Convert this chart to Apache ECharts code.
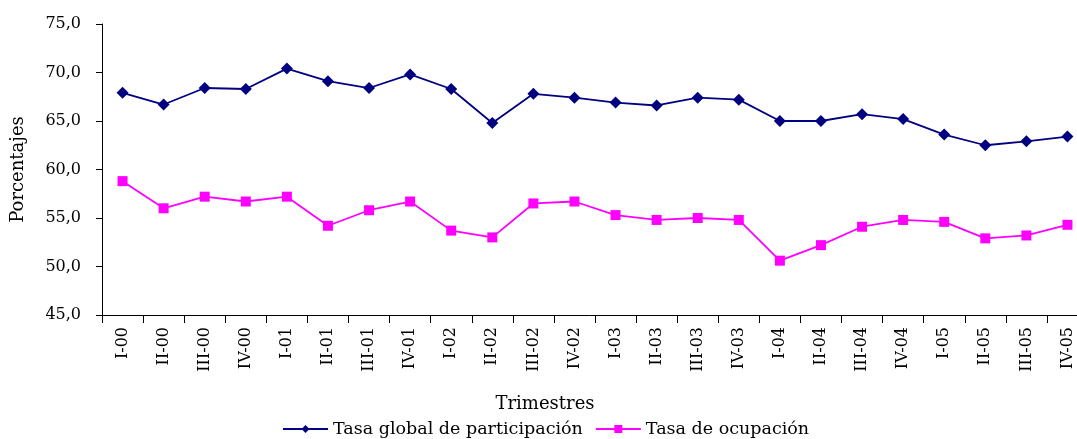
<!DOCTYPE html>
<html lang="es">
  <head>
    <meta charset="utf-8" />
    <title>Tasa global de participación y tasa de ocupación</title>
    <script src="https://cdn.jsdelivr.net/npm/echarts@6/dist/echarts.min.js"></script>
    <style>
      * { margin: 0; padding: 0; }
      html, body, #chart { width: 1077px; height: 439px; overflow: hidden; background: #fff; }
    </style>
  </head>
  <body>
    <div id="chart"></div>
    <script>
      var trimestres = [
        "I-00", "II-00", "III-00", "IV-00",
        "I-01", "II-01", "III-01", "IV-01",
        "I-02", "II-02", "III-02", "IV-02",
        "I-03", "II-03", "III-03", "IV-03",
        "I-04", "II-04", "III-04", "IV-04",
        "I-05", "II-05", "III-05", "IV-05"
      ];
      var tasaGlobal = [
        67.9, 66.7, 68.4, 68.3,
        70.4, 69.1, 68.4, 69.8,
        68.3, 64.8, 67.8, 67.4,
        66.9, 66.6, 67.4, 67.2,
        65.0, 65.0, 65.7, 65.2,
        63.6, 62.5, 62.9, 63.4
      ];
      var tasaOcupacion = [
        58.8, 56.0, 57.2, 56.7,
        57.2, 54.2, 55.8, 56.7,
        53.7, 53.0, 56.5, 56.7,
        55.3, 54.8, 55.0, 54.8,
        50.6, 52.2, 54.1, 54.8,
        54.6, 52.9, 53.2, 54.3
      ];

      var font = "'DejaVu Serif', 'Liberation Serif', serif";
      var chart = echarts.init(document.getElementById("chart"));

      chart.setOption({
        animation: false,
        textStyle: { fontFamily: font, color: "#000" },
        // the plot runs a little past the right edge, as in the source
        grid: { left: 102, top: 24, width: 986, height: 291, outerBoundsMode: "none" },
        legend: {
          left: 277,
          top: 415,
          itemGap: 12,
          itemWidth: 45,
          itemHeight: 10,
          textStyle: { fontFamily: font, fontSize: 17.5, color: "#000" },
          data: ["Tasa global de participación", "Tasa de ocupación"]
        },
        xAxis: {
          type: "category",
          data: trimestres,
          boundaryGap: true,
          name: "Trimestres",
          nameLocation: "middle",
          nameGap: 80,
          nameTextStyle: { fontFamily: font, fontSize: 18, color: "#000", padding: [0, 100, 0, 0] },
          axisLine: { lineStyle: { color: "#000", width: 1 } },
          axisTick: { show: true, length: 8, lineStyle: { color: "#000" } },
          axisLabel: { rotate: 90, margin: 12, fontFamily: font, fontSize: 16, color: "#000", interval: 0 },
          splitLine: { show: false }
        },
        yAxis: {
          type: "value",
          min: 45,
          max: 75,
          interval: 5,
          name: "Porcentajes",
          nameLocation: "middle",
          nameGap: 75,
          nameTextStyle: { fontFamily: font, fontSize: 18, color: "#000" },
          axisLine: { show: true, lineStyle: { color: "#000", width: 1 } },
          axisTick: { show: true, length: 6, lineStyle: { color: "#000" } },
          axisLabel: {
            fontFamily: font,
            fontSize: 16,
            color: "#000",
            margin: 21,
            formatter: function (v) { return v.toFixed(1).replace(".", ","); }
          },
          splitLine: { show: false }
        },
        series: [
          {
            name: "Tasa global de participación",
            type: "line",
            data: tasaGlobal,
            symbol: "diamond",
            symbolSize: 12,
            itemStyle: { color: "#000080" },
            lineStyle: { color: "#000080", width: 1.8 }
          },
          {
            name: "Tasa de ocupación",
            type: "line",
            data: tasaOcupacion,
            symbol: "rect",
            symbolSize: 10,
            itemStyle: { color: "#ff00ff" },
            lineStyle: { color: "#ff00ff", width: 1.8 }
          }
        ]
      });
    </script>
  </body>
</html>
